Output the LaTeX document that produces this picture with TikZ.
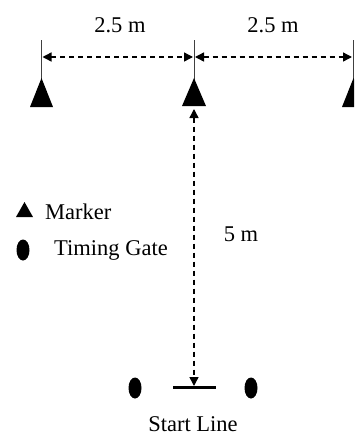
\documentclass[tikz,border=0pt]{standalone}
\usepackage{fontspec}
\setmainfont{Liberation Serif}
\usetikzlibrary{arrows.meta,shapes.geometric}
\begin{document}
\begin{tikzpicture}[x=1pt,y=-1pt,
  lbl/.style={inner sep=0pt,font=\fontsize{22.5}{26}\selectfont},
  marker/.style={fill=black,draw=none},
  gate/.style={ellipse,fill=black,draw=none,minimum width=13pt,minimum height=21pt,inner sep=0pt},
  dim/.style={line width=1.4pt,dash pattern=on 5pt off 4pt,
    {Triangle[length=9pt,width=9pt]}-{Triangle[length=9pt,width=9pt]}},
  tick/.style={line width=1pt,draw=black!75}]
\useasboundingbox (0,0) rectangle (354,437);
\clip (0,0) rectangle (354,437);
% tick lines
\coordinate (tL1) at (41.5,40); \coordinate (tL2) at (41.5,80);
\coordinate (tC1) at (194,40);  \coordinate (tC2) at (194,80);
\coordinate (tR1) at (353,40);  \coordinate (tR2) at (353,80);
\draw[tick] (tL1) -- (tL2);
\draw[tick] (tC1) -- (tC2);
\draw[tick] (tR1) -- (tR2);
% markers
\fill[marker] (30,107) -- (41.5,78) -- (53,107) -- cycle;
\fill[marker] (182,106) -- (194,78) -- (206,106) -- cycle;
\fill[marker] (342,107) -- (353.5,78) -- (365,107) -- cycle;
% horizontal dims
\coordinate (hL) at (42.5,57); \coordinate (hM1) at (193,57);
\coordinate (hM2) at (195,57); \coordinate (hR) at (352,57);
\draw[dim] (hL) -- (hM1);
\draw[dim] (hM2) -- (hR);
\node[lbl] (d1) at (120,25) {2.5 m};
\node[lbl] (d2) at (273,25) {2.5 m};
% vertical dim
\coordinate (vT) at (194,109);
\coordinate (vB) at (194,386);
\draw[dim] (vT) -- (vB);
\node[lbl] (d3) at (241,234) {5 m};
% start line
\draw[line width=3.5pt] (173,387.5) -- (216,387.5);
\node[gate] (g1) at (135,388) {};
\node[gate] (g2) at (251,388) {};
\node[lbl] (sl) at (193,424) {Start Line};
% legend
\fill[marker] (16,217) -- (24.5,202) -- (33,217) -- cycle;
\node[lbl,anchor=west] (lm) at (45,212) {Marker};
\node[gate] (lg) at (23,250) {};
\node[lbl,anchor=west] (lt) at (54,250) {Timing Gate};
\end{tikzpicture}
\end{document}
